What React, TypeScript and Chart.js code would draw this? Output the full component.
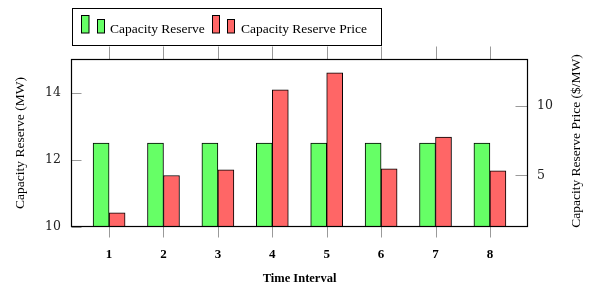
import React, { useEffect, useRef } from 'react';
import { Chart, registerables } from 'chart.js';

Chart.register(...registerables);

const intervals = [1, 2, 3, 4, 5, 6, 7, 8];
const capacityReserve = [12.5, 12.5, 12.5, 12.5, 12.5, 12.5, 12.5, 12.5];
const reservePrice = [2.32, 5.0, 5.41, 11.14, 12.35, 5.48, 7.74, 5.34];
const leftRange = [10, 15];
const rightRange = [1.31, 13.34];
const xRange = [0.3, 8.7];
const seriesNames = ['Capacity Reserve', 'Capacity Reserve Price'];
const axisTitles = ['Time Interval', 'Capacity Reserve (MW)', 'Capacity Reserve Price ($/MW)'];

const GREEN = '#66ff66';
const RED = '#ff6666';
const TICK = '#9a9a9a';
const SERIF = '"Liberation Serif", "Times New Roman", serif';

const decorPlugin = {
  id: 'decor',
  afterDraw(chart: any) {
    const { ctx, chartArea, scales } = chart;
    const L = Math.round(chartArea.left) + 0.5;
    const R = Math.round(chartArea.right) - 0.5;
    const T = Math.round(chartArea.top) + 0.5;
    const B = Math.round(chartArea.bottom) - 0.5;
    ctx.save();
    // tick marks
    ctx.strokeStyle = TICK;
    ctx.lineWidth = 1;
    ctx.beginPath();
    scales.x.ticks.forEach((t: any) => {
      const px = Math.round(scales.x.getPixelForValue(t.value)) + 0.5;
      ctx.moveTo(px, B);
      ctx.lineTo(px, B + 11);
      ctx.moveTo(px, T);
      ctx.lineTo(px, T - 13);
    });
    scales.y.ticks.forEach((t: any) => {
      const py = Math.round(scales.y.getPixelForValue(t.value)) + 0.5;
      ctx.moveTo(L, py);
      ctx.lineTo(L + 10, py);
    });
    scales.y1.ticks.forEach((t: any) => {
      const py = Math.round(scales.y1.getPixelForValue(t.value)) + 0.5;
      ctx.moveTo(R, py);
      ctx.lineTo(R - 12, py);
    });
    ctx.stroke();
    // frame
    ctx.strokeStyle = '#000';
    ctx.lineWidth = 1.2;
    ctx.strokeRect(L, T, R - L, B - T);

    // axis titles
    ctx.fillStyle = '#000';
    ctx.textAlign = 'center';
    ctx.textBaseline = 'middle';
    ctx.font = `13.5px ${SERIF}`;
    ctx.save();
    ctx.translate(20, 143);
    ctx.rotate(-Math.PI / 2);
    ctx.fillText(axisTitles[1], 0, 0);
    ctx.restore();
    ctx.save();
    ctx.translate(576.5, 141);
    ctx.rotate(-Math.PI / 2);
    ctx.fillText(axisTitles[2], 0, 0);
    ctx.restore();
    ctx.font = `bold 12.5px ${SERIF}`;
    ctx.textBaseline = 'alphabetic';
    ctx.fillText(axisTitles[0], (L + R) / 2, 281.5);

    // legend
    ctx.fillStyle = '#fff';
    ctx.fillRect(72.5, 8.5, 309, 37);
    ctx.strokeStyle = '#000';
    ctx.lineWidth = 1;
    ctx.strokeRect(72.5, 8.5, 309, 37);
    const icon = (x: number, y: number, w: number, h: number, c: string) => {
      ctx.fillStyle = c;
      ctx.fillRect(x, y, w, h);
      ctx.strokeStyle = '#000';
      ctx.strokeRect(x, y, w, h);
    };
    icon(81.5, 15.5, 7.5, 17.5, GREEN);
    icon(97.5, 19.5, 7, 13.5, GREEN);
    icon(212.5, 15.5, 7, 17.5, RED);
    icon(227.5, 19.5, 7, 13.5, RED);
    ctx.fillStyle = '#000';
    ctx.textAlign = 'left';
    ctx.textBaseline = 'alphabetic';
    ctx.font = `13.5px ${SERIF}`;
    ctx.fillText(seriesNames[0], 110, 32.5);
    ctx.fillText(seriesNames[1], 241, 32.5);
    ctx.restore();
  },
};

export default function App() {
  const ref = useRef<HTMLCanvasElement | null>(null);
  useEffect(() => {
    if (!ref.current) return;
    const chart = new Chart(ref.current, {
      type: 'bar',
      data: {
        datasets: [
          {
            label: seriesNames[0],
            data: intervals.map((x, i) => ({ x, y: capacityReserve[i] })),
            yAxisID: 'y',
            backgroundColor: GREEN,
            borderColor: '#000',
            borderWidth: 1,
            barThickness: 16,
          },
          {
            label: seriesNames[1],
            data: intervals.map((x, i) => ({ x, y: reservePrice[i] })),
            yAxisID: 'y1',
            backgroundColor: RED,
            borderColor: '#000',
            borderWidth: 1,
            barThickness: 16,
          },
        ],
      },
      options: {
        animation: false,
        responsive: false,
        devicePixelRatio: 1,
        layout: { padding: { top: 59, left: 0, right: 0, bottom: 0 } },
        plugins: { legend: { display: false }, tooltip: { enabled: false } },
        scales: {
          x: {
            type: 'linear',
            offset: false,
            min: xRange[0],
            max: xRange[1],
            grid: { display: false, drawTicks: false, offset: false },
            border: { display: false },
            ticks: {
              stepSize: 1,
              includeBounds: false,
              color: '#000',
              padding: 20,
              font: { family: SERIF, size: 13, weight: 'bold' },
            },
            afterFit: (s: any) => { s.height = 56; },
          },
          y: {
            position: 'left',
            min: leftRange[0],
            max: leftRange[1],
            grid: { display: false, drawTicks: false },
            border: { display: false },
            ticks: {
              stepSize: 2,
              includeBounds: false,
              color: '#222',
              padding: 10,
              font: { family: '"DejaVu Serif", serif', size: 12.5 },
            },
            afterFit: (s: any) => { s.width = 71; },
          },
          y1: {
            position: 'right',
            min: rightRange[0],
            max: rightRange[1],
            grid: { display: false, drawTicks: false },
            border: { display: false },
            ticks: {
              stepSize: 5,
              includeBounds: false,
              color: '#222',
              padding: 9,
              font: { family: '"DejaVu Serif", serif', size: 12.5 },
            },
            afterFit: (s: any) => { s.width = 68; },
          },
        },
      },
      plugins: [decorPlugin],
    } as any);
    return () => chart.destroy();
  }, []);
  return (
    <div style={{ position: 'absolute', left: 0, top: 0, width: 596, height: 283 }}>
      <canvas ref={ref} width={596} height={283} />
    </div>
  );
}
